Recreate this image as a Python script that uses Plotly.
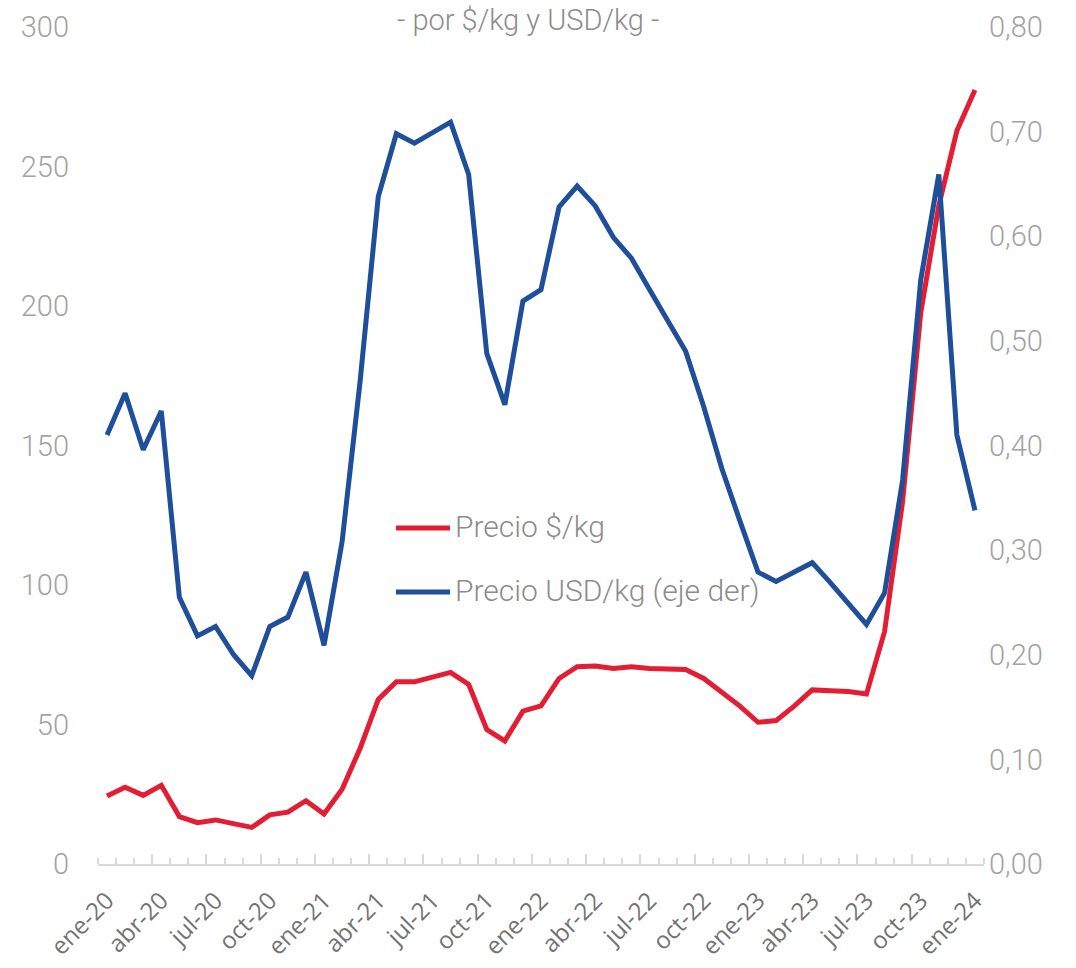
import plotly.graph_objects as go

# Monthly series, Jan-2020 .. Jan-2024
meses = [
    "ene-20", "feb-20", "mar-20", "abr-20", "may-20", "jun-20", "jul-20", "ago-20", "sep-20", "oct-20", "nov-20", "dic-20",
    "ene-21", "feb-21", "mar-21", "abr-21", "may-21", "jun-21", "jul-21", "ago-21", "sep-21", "oct-21", "nov-21", "dic-21",
    "ene-22", "feb-22", "mar-22", "abr-22", "may-22", "jun-22", "jul-22", "ago-22", "sep-22", "oct-22", "nov-22", "dic-22",
    "ene-23", "feb-23", "mar-23", "abr-23", "may-23", "jun-23", "jul-23", "ago-23", "sep-23", "oct-23", "nov-23", "dic-23",
    "ene-24",
]

precio_pesos = [
    24.4, 27.5, 24.6, 28.2, 17.0, 14.8, 15.8, 14.3, 13.1, 17.6, 18.6, 22.7,
    17.9, 26.8, 41.5, 59.0, 65.3, 65.3, 67.0, 68.7, 64.4, 48.2, 44.1, 54.8,
    56.7, 66.5, 70.7, 71.0, 70.1, 70.7, 70.1, 69.7, 69.7, 66.5, 61.4, 56.6,
    50.8, 51.4, 56.6, 62.4, 62.1, 61.8, 60.9, 83.3, 130.0, 197.5, 236.0, 262.8,
    277.4,
]

precio_usd = [
    0.410, 0.450, 0.396, 0.433, 0.255, 0.218, 0.227, 0.200, 0.180, 0.227, 0.236, 0.279,
    0.209, 0.308, 0.462, 0.638, 0.698, 0.689, 0.699, 0.709, 0.659, 0.488, 0.439, 0.538,
    0.549, 0.628, 0.648, 0.629, 0.599, 0.579, 0.549, 0.519, 0.490, 0.437, 0.378, 0.328,
    0.279, 0.270, 0.279, 0.288, 0.269, 0.249, 0.229, 0.259, 0.367, 0.558, 0.659, 0.410,
    0.338,
]

serie_pesos = "Precio $/kg"
serie_usd = "Precio USD/kg (eje der)"
subtitulo = "- por $/kg y USD/kg -"

ROJO = "#E31D33"
AZUL = "#1F4E9B"
GRIS_EJE = "#D9D9D9"
GRIS_TXT = "#A3A3A3"
GRIS_LEY = "#8C8C8C"

W, H = 1076, 968
M_L, M_R, M_T, M_B = 98, 92, 27, 104
PW, PH = W - M_L - M_R, H - M_T - M_B


def px_x(x):
    return (x - M_L) / PW


def px_y(y):
    return (H - M_B - y) / PH


idx = list(range(len(meses)))
etiquetas_pos = idx[::3]
etiquetas_txt = meses[::3]
limites_trimestre = [p - 0.5 for p in etiquetas_pos[:-1]] + [len(meses) - 0.5]

fig = go.Figure()
fig.add_trace(go.Scatter(
    x=idx, y=precio_pesos, name=serie_pesos, mode="lines",
    line=dict(color=ROJO, width=5), xaxis="x", yaxis="y", showlegend=False,
))
fig.add_trace(go.Scatter(
    x=idx, y=precio_usd, name=serie_usd, mode="lines",
    line=dict(color=AZUL, width=5), xaxis="x2", yaxis="y2", showlegend=False,
))

rango_x = [-0.5, len(meses) - 0.5]

fig.update_layout(
    width=W, height=H,
    margin=dict(l=M_L, r=M_R, t=M_T, b=M_B, pad=0, autoexpand=False),
    paper_bgcolor="white", plot_bgcolor="white",
    separators=",.",
    # month labels + short monthly ticks
    xaxis=dict(
        range=rango_x, showgrid=False, zeroline=False, automargin=False,
        showline=True, linecolor=GRIS_EJE, linewidth=2,
        tickmode="array", tickvals=etiquetas_pos, ticktext=etiquetas_txt,
        ticks="", tickangle=-45, ticklabelstandoff=11,
        tickfont=dict(family="Open Sans", size=24, color="#737373"),
        minor=dict(tickmode="linear", tick0=-0.5, dtick=1, ticks="inside",
                   ticklen=6, tickwidth=1.5, tickcolor=GRIS_EJE),
    ),
    # taller quarter ticks
    xaxis2=dict(
        overlaying="x", matches="x", side="bottom", anchor="y", automargin=False,
        showgrid=False, zeroline=False, showline=False,
        tickmode="array", tickvals=limites_trimestre,
        ticks="inside", ticklen=10, tickwidth=1.5, tickcolor=GRIS_EJE,
        showticklabels=False,
    ),
    yaxis=dict(
        range=[0, 300], dtick=50, showgrid=False, zeroline=False, showline=False,
        ticks="", ticklabelstandoff=28, automargin=False,
        tickfont=dict(family="Roboto", size=29, color=GRIS_TXT, weight=300),
    ),
    yaxis2=dict(
        range=[0, 0.8], dtick=0.1, tickformat=".2f", overlaying="y", side="right",
        anchor="x", showgrid=False, zeroline=False, showline=False,
        ticks="", ticklabelstandoff=4, automargin=False,
        tickfont=dict(family="Roboto", size=29, color=GRIS_TXT, weight=300),
    ),
)

# subtitle along the top edge
fig.add_annotation(
    text=subtitulo, xref="paper", yref="paper", x=px_x(528), y=px_y(1),
    xanchor="center", yanchor="top", showarrow=False,
    font=dict(family="Roboto", size=29, color=GRIS_LEY, weight=300),
)

# legend drawn inside the plot
for nombre, color, yy in [(serie_pesos, ROJO, 528), (serie_usd, AZUL, 592)]:
    fig.add_shape(type="line", xref="paper", yref="paper",
                  x0=px_x(396), x1=px_x(450), y0=px_y(yy), y1=px_y(yy),
                  line=dict(color=color, width=5))
    fig.add_annotation(
        text=nombre, xref="paper", yref="paper", x=px_x(453), y=px_y(yy - 2),
        xanchor="left", yanchor="middle", showarrow=False,
        font=dict(family="Roboto", size=30, color=GRIS_LEY, weight=300),
    )

fig.write_html("out.html")
